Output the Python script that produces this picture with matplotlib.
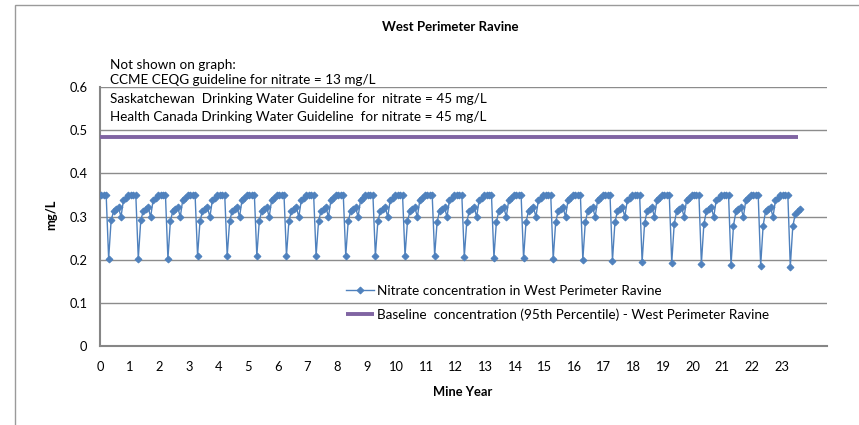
import numpy as np
import matplotlib
matplotlib.use("Agg")
import matplotlib.pyplot as plt
from matplotlib.patches import Rectangle

plt.rcParams["font.family"] = ["Lato", "DejaVu Sans"]

# values
start_vals = [0.35, 0.35, 0.35]
# lowest value of each yearly dip, years 0..23
drop_vals = [0.202, 0.202, 0.202, 0.209, 0.209, 0.209, 0.209, 0.209, 0.209,
             0.209, 0.209, 0.209, 0.207, 0.205, 0.203, 0.2015, 0.200, 0.198,
             0.195, 0.193, 0.191, 0.188, 0.186, 0.184]
# first point after each dip
post_drop_vals = [0.291, 0.291, 0.290, 0.290, 0.290, 0.290, 0.290, 0.290,
                  0.289, 0.289, 0.289, 0.288, 0.288, 0.288, 0.288, 0.287,
                  0.287, 0.287, 0.284, 0.283, 0.282, 0.279, 0.279, 0.277]
# rest of the yearly recovery
recovery_vals = [0.312, 0.317, 0.321, 0.299, 0.338, 0.342, 0.35, 0.35, 0.35, 0.35]
last_partial_vals = [0.305, 0.312, 0.317]

baseline_value = 0.485
baseline_years = [0.0, 23.55]

year_ticks = list(range(0, 24))
y_ticks = [0, 0.1, 0.2, 0.3, 0.4, 0.5, 0.6]
y_tick_labels = ["0", "0.1", "0.2", "0.3", "0.4", "0.5", "0.6"]

notes = ["Not shown on graph:",
         "CCME CEQG guideline for nitrate = 13 mg/L",
         "Saskatchewan  Drinking Water Guideline for  nitrate = 45 mg/L",
         "Health Canada Drinking Water Guideline  for nitrate = 45 mg/L"]

# assemble the monthly series
nitrate = list(start_vals)
n_years = len(drop_vals)
for k in range(n_years):
    nitrate.append(drop_vals[k])
    nitrate.append(post_drop_vals[k])
    if k < n_years - 1:
        nitrate.extend(recovery_vals)
    else:
        nitrate.extend(last_partial_vals)
nitrate = np.array(nitrate)
months = (np.arange(len(nitrate)) + 0.5) / 12.0

blue = "#4F81BD"
purple = "#8064A2"
grid_col = "#8C8C8C"

fig = plt.figure(figsize=(8.59, 4.25), dpi=100)
ax = fig.add_axes([100 / 859, 1 - 346 / 425, 727 / 859, 259 / 425])

ax.plot(months, nitrate, color=blue, lw=1.0, marker="D", markersize=3.5,
        markeredgewidth=0.7, label="Nitrate concentration in West Perimeter Ravine",
        zorder=3)
ax.plot(baseline_years, [baseline_value, baseline_value], color=purple, lw=2.8,
        label="Baseline  concentration (95th Percentile) - West Perimeter Ravine",
        solid_capstyle="butt", zorder=3)

ax.set_xlim(0, 24.53)
ax.set_ylim(0, 0.6)
ax.set_xticks(year_ticks)
ax.set_yticks(y_ticks)
ax.set_yticklabels(y_tick_labels)
ax.tick_params(axis="both", length=0, labelsize=9.3, colors="black")
ax.tick_params(axis="x", pad=11)
ax.tick_params(axis="y", pad=9)
ax.yaxis.grid(True, color=grid_col, lw=1.0)
ax.set_axisbelow(True)
for side in ["top", "right"]:
    ax.spines[side].set_visible(False)
for side in ["left", "bottom"]:
    ax.spines[side].set_color("#868686")
    ax.spines[side].set_linewidth(1.5)

ax.set_xlabel("Mine Year", fontsize=9.3, fontweight="bold")
ax.xaxis.set_label_coords((463 - 100) / 727, -(386 - 346) / 259)
ax.set_ylabel("mg/L", fontsize=9.3, fontweight="bold")
ax.yaxis.set_label_coords(-(100 - 57) / 727, (346 - 215) / 259)

fig.text(450 / 859, 1 - 27 / 425, "West Perimeter Ravine", fontsize=9.5,
         fontweight="bold", ha="center", va="center")

note_y = [65, 80, 99, 117]
for txt, yy in zip(notes, note_y):
    fig.text(110 / 859, 1 - yy / 425, txt, fontsize=9.7, ha="left", va="center")

ax.legend(loc="center left", bbox_to_anchor=(339 / 859, 1 - 303 / 425),
          bbox_transform=fig.transFigure, frameon=False, fontsize=9.7,
          handlelength=2.1, handletextpad=0.2, labelspacing=0.85,
          borderpad=0)

# outer chart border
fig.patches.append(Rectangle((15 / 859, -0.05), 1.0, 1 - 5 / 425 + 0.05,
                             transform=fig.transFigure, fill=False,
                             edgecolor="#9A9A9A", lw=1.0))

fig.savefig("out.png", dpi=100)
